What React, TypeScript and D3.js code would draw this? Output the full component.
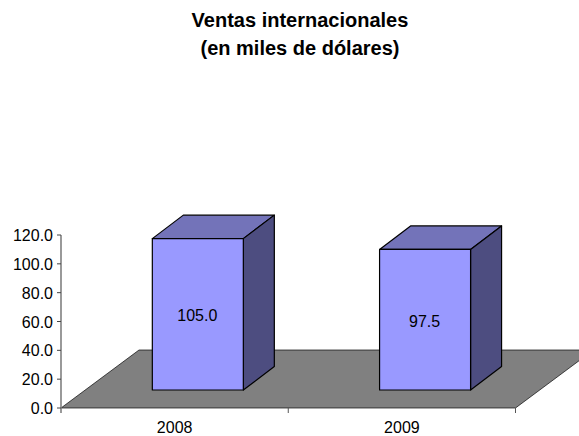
import React from "react";
import * as d3 from "d3";

const categories = ["2008", "2009"];
const values = [105.0, 97.5];
const valueLabels = ["105.0", "97.5"];
const yTicks = [0, 20, 40, 60, 80, 100, 120];
const titleLines = ["Ventas internacionales", "(en miles de dólares)"];

const font = "'Liberation Sans', Arial, sans-serif";

export default function App() {
  const x0 = 61, x1 = 515.5, yBase = 408, yTop = 235;
  const x = d3.scaleBand<string>().domain(categories).range([x0, x1]);
  const y = d3.scaleLinear().domain([0, 120]).range([yBase, yTop]);
  const floorDx = 78, floorDy = 58;
  const barFrontDx = 23.2, barFrontDy = 18;
  const barW = 91, depthDx = 31, depthDy = 23.5;
  const floor = `M${x0},${yBase}L${x1},${yBase}L${x1 + floorDx},${yBase - floorDy}L${x0 + floorDx},${yBase - floorDy}Z`;
  return (
    <svg width={579} height={436} viewBox="0 0 579 436" style={{ position: "absolute", left: 0, top: 0, display: "block" }} fontFamily={font}>
      <rect width={579} height={436} fill="#fff" />
      {titleLines.map((t, i) => (
        <text key={t} x={300} y={27 + i * 28} textAnchor="middle" fontSize={20} fontWeight="bold" fill="#000">{t}</text>
      ))}
      <path d={floor} fill="#808080" stroke="#000" strokeWidth={0.8} strokeOpacity={0.85} />
      <line x1={x0} x2={x0} y1={yTop} y2={yBase + 5} stroke="#808080" strokeWidth={1.6} />
      {yTicks.map((t) => (
        <g key={t}>
          <line x1={x0 - 4} x2={x0} y1={y(t)} y2={y(t)} stroke="#444" strokeWidth={1} />
          <text x={53} y={y(t) + 6} textAnchor="end" fontSize={16} fill="#000">{t.toFixed(1)}</text>
        </g>
      ))}
      {[x1, x0 + x.step()].map((v) => (
        <line key={v} x1={v} x2={v} y1={yBase} y2={yBase + 5} stroke="#555" strokeWidth={1} />
      ))}
      {categories.map((c, i) => {
        const cx = x(c)! + x.bandwidth() / 2;
        const left = cx + barFrontDx - barW / 2;
        const right = left + barW;
        const bottom = y(0) - barFrontDy;
        const top = bottom - (yBase - y(values[i]));
        const sx = right + depthDx, sy = depthDy;
        return (
          <g key={c} stroke="#000" strokeWidth={1.2} strokeLinejoin="round">
            <path d={`M${left},${top}L${right},${top}L${sx},${top - sy}L${left + depthDx},${top - sy}Z`} fill="#7373b9" />
            <path d={`M${right},${top}L${sx},${top - sy}L${sx},${bottom - sy}L${right},${bottom}Z`} fill="#4d4d80" />
            <rect x={left} y={top} width={barW} height={bottom - top} fill="#9999ff" />
            <text x={(left + right) / 2 - 0.5} y={(top + bottom) / 2 + 7} textAnchor="middle" fontSize={16} fill="#000" stroke="none">{valueLabels[i]}</text>
            <text x={cx} y={433} textAnchor="middle" fontSize={16} fill="#000" stroke="none">{c}</text>
          </g>
        );
      })}
    </svg>
  );
}
